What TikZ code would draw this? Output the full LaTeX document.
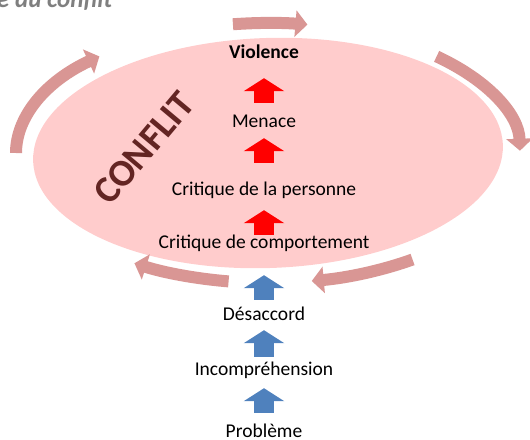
\documentclass[tikz,border=0pt]{standalone}
\usepackage{fontspec}
\setmainfont{Carlito}
\usetikzlibrary{shapes,arrows.meta}
\definecolor{zonepink}{RGB}{255,204,204}
\definecolor{tourpink}{RGB}{217,150,148}
\definecolor{etapeblue}{RGB}{79,129,189}
\definecolor{conflitred}{RGB}{99,37,35}
\definecolor{titregrey}{RGB}{127,127,127}
\begin{document}
\begin{tikzpicture}[x=1pt,y=1pt]
\tikzstyle{etape}=[inner sep=0pt,text height=13pt,text depth=5pt,anchor=base,font=\fontsize{19.5}{23}\selectfont]
\tikzstyle{monte}=[line width=20pt,-{Triangle[width=40pt,length=13pt]}]
\tikzstyle{tour}=[tourpink,line width=12pt,-{Triangle[width=26pt,length=12pt]}]
\useasboundingbox (0,0) rectangle (530,-439);

\fill[zonepink,rotate around={2:(268,-153)}] (268,-153) ellipse [x radius=235,y radius=115];
\coordinate (centre) at (268,-153);

\node[inner sep=0pt,anchor=base west,text=titregrey,font=\fontsize{25}{30}\selectfont\bfseries\itshape] (titre) at (-3,-7) {e du conflit};
\node[text=conflitred,rotate=50,font=\fontsize{38}{46}\selectfont\bfseries] (conflit) at (144,-148) {CONFLIT};

\node[etape,font=\fontsize{19.5}{23}\selectfont\bfseries](violence) at (264,-58) {Violence};
\node[etape](menace) at (264,-127) {Menace};
\node[etape](personne) at (264,-195) {Critique de la personne};
\node[etape](comport) at (264,-248) {Critique de comportement};
\node[etape](desaccord) at (264,-320) {Désaccord};
\node[etape](incomp) at (264,-375) {Incompréhension};
\node[etape](probleme) at (264,-437) {Problème};

\draw[monte,red,shorten <=11pt,shorten >=15pt] (menace) -- (violence);
\draw[monte,red,shorten <=19pt,shorten >=6pt] (personne) -- (menace);
\draw[monte,red,shorten <=0pt,shorten >=10pt] (comport) -- (personne);
\draw[monte,etapeblue,shorten <=7pt,shorten >=22pt] (desaccord) -- (comport);
\draw[monte,etapeblue,shorten <=5pt,shorten >=5pt] (incomp) -- (desaccord);
\draw[monte,etapeblue,shorten <=11pt,shorten >=8pt] (probleme) -- (incomp);

% fleches du cycle
\draw[tour] (centre) ++(180:252 and 130) arc[start angle=180,end angle=132,x radius=252,y radius=130];
\draw[tour] (centre) ++(98:252 and 130) arc[start angle=98,end angle=81,x radius=252,y radius=130];
\draw[tour] (centre) ++(48:252 and 130) arc[start angle=48,end angle=1,x radius=252,y radius=130];
\draw[tour] (centre) ++(-55:252 and 130) arc[start angle=-55,end angle=-80,x radius=252,y radius=130];
\draw[tour] (centre) ++(-99:252 and 130) arc[start angle=-99,end angle=-122,x radius=252,y radius=130];
\end{tikzpicture}
\end{document}
